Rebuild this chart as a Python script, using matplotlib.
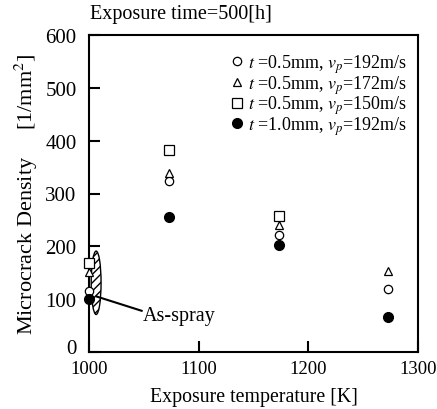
import numpy as np
import matplotlib.pyplot as plt
import matplotlib.transforms as mtransforms
from matplotlib.patches import Ellipse

plt.rcParams['font.family'] = ['Liberation Serif', 'DejaVu Serif']
plt.rcParams['mathtext.fontset'] = 'stix'

# data
temp = [1000, 1073, 1173, 1273]
circ_192 = [115, 324, 222, 120]
tri_172 = [152, 338, 240, 153]
sq_150 = [168, 383, 257]
fill_192 = [100, 256, 202, 66]
labels = [r'$t$ =0.5mm, $v_p$=192m/s',
          r'$t$ =0.5mm, $v_p$=172m/s',
          r'$t$ =0.5mm, $v_p$=150m/s',
          r'$t$ =1.0mm, $v_p$=192m/s']

fig = plt.figure(figsize=(4.37, 4.10), dpi=100)
ax = fig.add_axes([89/437, 1 - 353/410, 329/437, 317/410])

ms = 6
kw = dict(linestyle='none', clip_on=False, zorder=3)
ax.plot(temp, circ_192, 'o', mfc='white', mec='black', mew=0.9, ms=ms, label=labels[0], **kw)
ax.plot(temp, tri_172, '^', mfc='white', mec='black', mew=0.9, ms=ms, label=labels[1], **kw)
ax.plot(temp[:3], sq_150, 's', mfc='white', mec='black', mew=0.9, ms=ms+1, label=labels[2], **kw)
ax.plot(temp, fill_192, 'o', mfc='black', mec='black', ms=ms+1, label=labels[3], **kw)

# as-spray ellipse
ell = Ellipse((1006.5, 131), 9, 120, facecolor='white', edgecolor='black',
              hatch='////', lw=1.0, zorder=2)
ax.add_patch(ell)
ax.plot([1007, 1048], [105, 78], color='black', lw=1.5, zorder=2)
ax.text(1049, 60, 'As-spray', fontsize=14.5)

ax.set_xlim(1000, 1300)
ax.set_ylim(0, 600)
ax.set_xticks([1000, 1100, 1200, 1300])
ax.set_yticks(range(0, 601, 100))
ax.tick_params(direction='in', length=8, width=1.5)
ax.tick_params(axis='y', pad=9, labelsize=15)
ax.tick_params(axis='x', pad=6, labelsize=13.5)
for s in ax.spines.values():
    s.set_linewidth(1.5)

# nudge the "0" label up a little so it clears the 1000 label
zero = ax.yaxis.get_major_ticks()[0].label1
zero.set_transform(zero.get_transform() +
                   mtransforms.ScaledTranslation(0, 4/72, fig.dpi_scale_trans))

ax.set_xlabel('Exposure temperature [K]', fontsize=14.3, labelpad=7)
ax.set_ylabel('Microcrack Density     [1/mm$^2$]', fontsize=16, labelpad=4)
fig.text(90/437, 1 - 15/410, 'Exposure time=500[h]', fontsize=14.5, va='center')

leg = ax.legend(loc='upper right', bbox_to_anchor=(1.0, 0.98), frameon=False,
                fontsize=13, handletextpad=0.25, labelspacing=-0.1,
                handlelength=0.8, borderaxespad=0.2)

fig.savefig('out.png', dpi=100)
